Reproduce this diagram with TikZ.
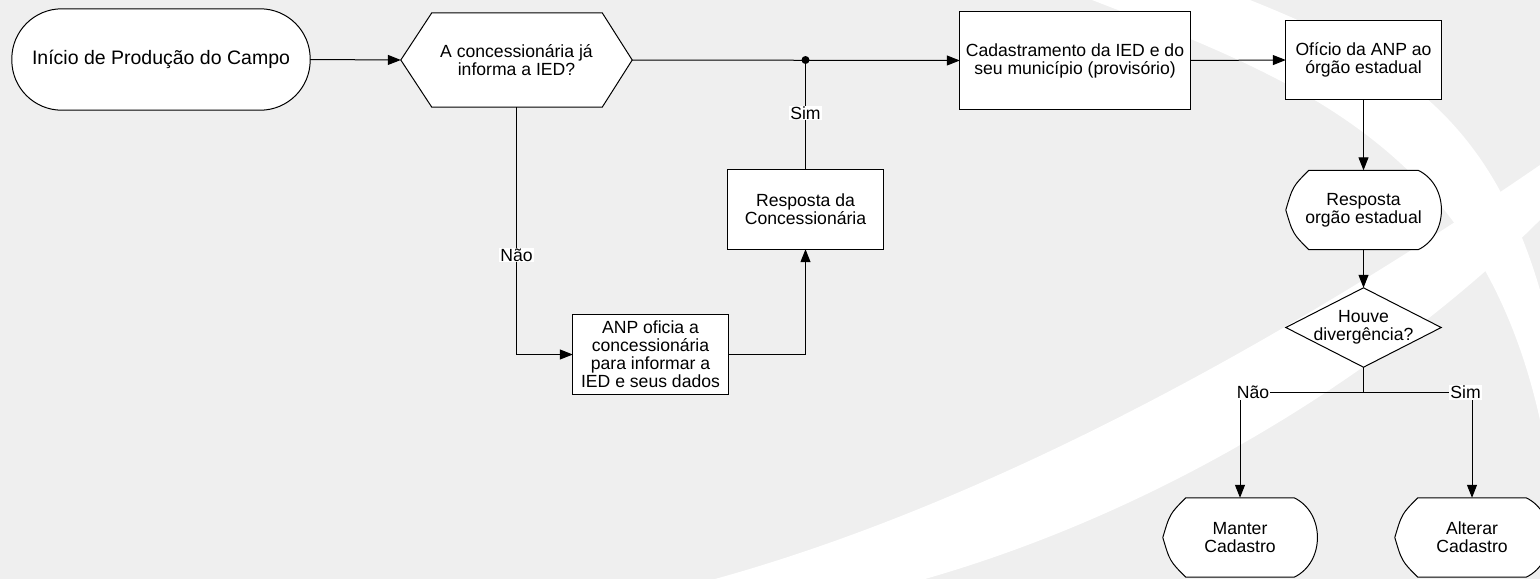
\documentclass[tikz,border=0pt]{standalone}
\usepackage{fontspec}
\setmainfont{Liberation Sans}
\usetikzlibrary{arrows.meta}
\pgfdeclarelayer{bg}
\pgfdeclarelayer{shp}
\pgfsetlayers{bg,shp,main}
\definecolor{bggray}{RGB}{239,239,239}
\newcommand\txtfont{\fontsize{17.6}{17.9}\selectfont}
\newcommand\bigtxtfont{\fontsize{19.5}{22}\selectfont}
\tikzset{
  frame/.style={draw=none, rectangle, inner sep=0pt, align=center, font=\txtfont},
  outline/.style={draw=black, fill=white, line width=1pt, line join=miter},
  conn/.style={draw=black, line width=1pt},
  arr/.style={conn, -{Triangle[length=13pt,width=10pt]}},
  lbl/.style={fill=white, inner sep=1pt, font=\txtfont},
  jdot/.style={circle, fill=black, inner sep=0pt, minimum size=8pt},
}
\begin{document}
\begin{tikzpicture}[x=1pt,y=-1pt]
\useasboundingbox (0,0) rectangle (1540,579);
\begin{pgfonlayer}{bg}
\clip (0,0) rectangle (1540,579);
\fill[bggray] (0,0) rectangle (1540,579);
% big sweeping band from the bottom
\fill[white] (715,579) .. controls (1000,500) and (1300,330) .. (1540,165)
  -- (1540,220) .. controls (1420,340) and (1200,500) .. (925,579) -- cycle;
% band from the top
\fill[white] (1250,0) .. controls (1400,60) and (1490,120) .. (1540,290)
  -- (1540,420) .. controls (1480,150) and (1300,80) .. (1092,0) -- cycle;
\end{pgfonlayer}

% nodes
\node[frame, font=\bigtxtfont, minimum width=298pt, minimum height=101pt] (start) at (161,59.5) {Início de Produção do Campo};
\node[frame, minimum width=231pt, minimum height=94pt] (q1) at (516.5,60) {A concessionária já\\informa a IED?};
\node[frame, minimum width=230pt, minimum height=97pt] (cad) at (1075,60.5) {Cadastramento da IED e do\\seu município (provisório)};
\node[frame, minimum width=155pt, minimum height=79pt] (of) at (1363.5,60) {Ofício da ANP ao\\órgão estadual};
\node[frame, minimum width=155pt, minimum height=79pt] (roe) at (1363.5,210) {Resposta\\orgão estadual};
\node[frame, minimum width=155pt, minimum height=79pt] (div) at (1363.5,327.5) {Houve\\divergência?};
\node[frame, minimum width=154pt, minimum height=79pt] (man) at (1240,537.5) {Manter\\Cadastro};
\node[frame, minimum width=154pt, minimum height=79pt] (alt) at (1472,537.5) {Alterar\\Cadastro};
\node[frame, minimum width=155pt, minimum height=79pt] (rc) at (805.5,209.5) {Resposta da\\Concessionária};
\node[frame, minimum width=155pt, minimum height=79pt] (anp) at (650.5,354.5) {ANP oficia a\\concessionária\\para informar a\\IED e seus dados};

% shape outlines
\begin{pgfonlayer}{shp}
\draw[outline, rounded corners=50pt] (start.north west) rectangle (start.south east);
\draw[outline] (q1.west) -- ([xshift=31pt]q1.north west) -- ([xshift=-30pt]q1.north east) -- (q1.east)
  -- ([xshift=-30pt]q1.south east) -- ([xshift=31pt]q1.south west) -- cycle;
\draw[outline] (cad.north west) rectangle (cad.south east);
\draw[outline] (of.north west) rectangle (of.south east);
\draw[outline] (rc.north west) rectangle (rc.south east);
\draw[outline] (anp.north west) rectangle (anp.south east);
\draw[outline] (div.north) -- (div.east) -- (div.south) -- (div.west) -- cycle;
\foreach \n in {roe,man,alt}{
  \draw[outline] ([xshift=23pt]\n.north west) -- ([xshift=-23pt]\n.north east)
    .. controls ([xshift=8pt,yshift=-15pt]\n.north east) and ([xshift=8pt,yshift=15pt]\n.south east) .. ([xshift=-23pt]\n.south east)
    -- ([xshift=23pt]\n.south west)
    .. controls ([xshift=7pt,yshift=16pt]\n.south west) .. (\n.west)
    .. controls ([xshift=7pt,yshift=-16pt]\n.north west) .. cycle;
}
\end{pgfonlayer}

% connectors
\node[jdot] (dot) at (rc.north |- q1.east) {};
\draw[arr] (start.east) -- (q1.west);
\draw[arr] (q1.east) -- (cad.west);
\draw[conn] (rc.north) -- (dot.center);
\draw[arr] (q1.south) |- (anp.west);
\draw[arr] (anp.east) -| (rc.south);
\draw[arr] (cad.east) -- (of.west);
\draw[arr] (of.south) -- (roe.north);
\draw[arr] (roe.south) -- (div.north);
\path (div.south) ++(0,25) coordinate (split);
\draw[conn] (div.south) -- (split);
\draw[arr] (split) -| (man.north);
\draw[arr] (split) -| (alt.north);

% labels
\node[lbl] (sim1) at (805.5,113) {Sim};
\node[lbl] (nao1) at (516.5,255) {Não};
\node[lbl] (nao2) at (1253,392.5) {Não};
\node[lbl] (sim2) at (1465.5,392.5) {Sim};
\end{tikzpicture}
\end{document}
